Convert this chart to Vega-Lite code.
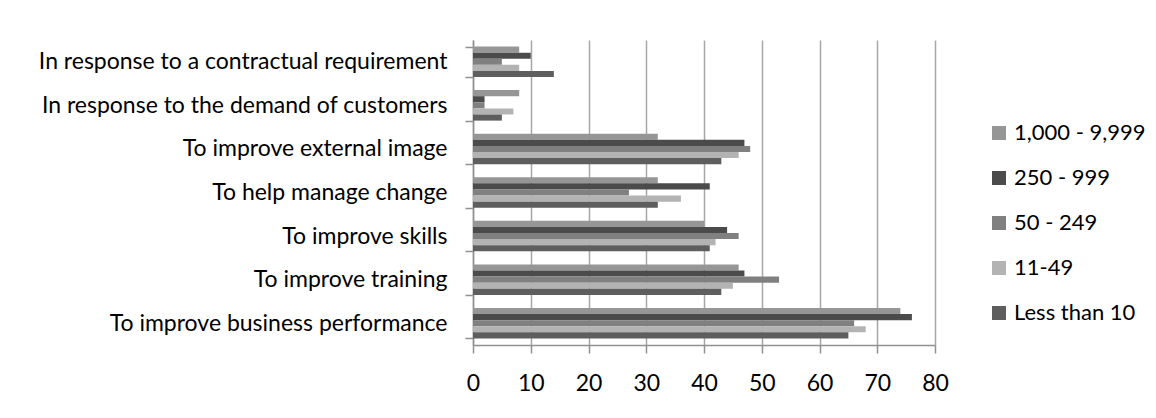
{
  "$schema": "https://vega.github.io/schema/vega-lite/v6.json",
  "autosize": "none",
  "width": 462,
  "height": 305,
  "padding": {"left": 473, "top": 40, "right": 221, "bottom": 73},
  "background": "white",
  "config": {
    "view": {"stroke": null},
    "font": "Lato",
    "axis": {"labelFont": "Lato", "labelColor": "#000000", "domainColor": "#909090", "tickColor": "#909090", "gridColor": "#a6a6a6", "domainWidth": 1.5, "tickWidth": 1.5, "gridWidth": 1.5}
  },
  "data": {
    "values": [
      {"reason": "In response to a contractual requirement", "size": "1,000 - 9,999", "value": 8},
      {"reason": "In response to a contractual requirement", "size": "250 - 999", "value": 10},
      {"reason": "In response to a contractual requirement", "size": "50 - 249", "value": 5},
      {"reason": "In response to a contractual requirement", "size": "11-49", "value": 8},
      {"reason": "In response to a contractual requirement", "size": "Less than 10", "value": 14},
      {"reason": "In response to the demand of customers", "size": "1,000 - 9,999", "value": 8},
      {"reason": "In response to the demand of customers", "size": "250 - 999", "value": 2},
      {"reason": "In response to the demand of customers", "size": "50 - 249", "value": 2},
      {"reason": "In response to the demand of customers", "size": "11-49", "value": 7},
      {"reason": "In response to the demand of customers", "size": "Less than 10", "value": 5},
      {"reason": "To improve external image", "size": "1,000 - 9,999", "value": 32},
      {"reason": "To improve external image", "size": "250 - 999", "value": 47},
      {"reason": "To improve external image", "size": "50 - 249", "value": 48},
      {"reason": "To improve external image", "size": "11-49", "value": 46},
      {"reason": "To improve external image", "size": "Less than 10", "value": 43},
      {"reason": "To help manage change", "size": "1,000 - 9,999", "value": 32},
      {"reason": "To help manage change", "size": "250 - 999", "value": 41},
      {"reason": "To help manage change", "size": "50 - 249", "value": 27},
      {"reason": "To help manage change", "size": "11-49", "value": 36},
      {"reason": "To help manage change", "size": "Less than 10", "value": 32},
      {"reason": "To improve skills ", "size": "1,000 - 9,999", "value": 40},
      {"reason": "To improve skills ", "size": "250 - 999", "value": 44},
      {"reason": "To improve skills ", "size": "50 - 249", "value": 46},
      {"reason": "To improve skills ", "size": "11-49", "value": 42},
      {"reason": "To improve skills ", "size": "Less than 10", "value": 41},
      {"reason": "To improve training", "size": "1,000 - 9,999", "value": 46},
      {"reason": "To improve training", "size": "250 - 999", "value": 47},
      {"reason": "To improve training", "size": "50 - 249", "value": 53},
      {"reason": "To improve training", "size": "11-49", "value": 45},
      {"reason": "To improve training", "size": "Less than 10", "value": 43},
      {"reason": "To improve business performance", "size": "1,000 - 9,999", "value": 74},
      {"reason": "To improve business performance", "size": "250 - 999", "value": 76},
      {"reason": "To improve business performance", "size": "50 - 249", "value": 66},
      {"reason": "To improve business performance", "size": "11-49", "value": 68},
      {"reason": "To improve business performance", "size": "Less than 10", "value": 65}
    ]
  },
  "mark": {"type": "bar"},
  "encoding": {
    "y": {
      "field": "reason",
      "type": "nominal",
      "sort": null,
      "scale": {"paddingInner": 0.3, "paddingOuter": 0.15},
      "axis": {"title": null, "tickBand": "extent", "tickSize": 8, "labelFontSize": 23, "labelPadding": 18, "labelLimit": 470, "grid": false}
    },
    "yOffset": {
      "field": "size",
      "type": "nominal",
      "sort": ["1,000 - 9,999", "250 - 999", "50 - 249", "11-49", "Less than 10"],
      "scale": {"paddingInner": 0, "paddingOuter": 0}
    },
    "x": {
      "field": "value",
      "type": "quantitative",
      "scale": {"domain": [0, 80]},
      "axis": {"title": null, "values": [0, 10, 20, 30, 40, 50, 60, 70, 80], "tickSize": 8, "labelFontSize": 23, "labelPadding": 19, "grid": true, "labelFlush": false}
    },
    "color": {
      "field": "size",
      "type": "nominal",
      "sort": ["1,000 - 9,999", "250 - 999", "50 - 249", "11-49", "Less than 10"],
      "scale": {"domain": ["1,000 - 9,999", "250 - 999", "50 - 249", "11-49", "Less than 10"], "range": ["#969696", "#4b4b4b", "#808080", "#b3b3b3", "#5e5e5e"]},
      "legend": {"title": null, "orient": "none", "legendX": 515, "legendY": 82, "symbolType": "square", "symbolSize": 196, "symbolStrokeWidth": 0, "labelFontSize": 22, "labelFont": "Lato", "labelColor": "#000000", "rowPadding": 23, "labelOffset": 4}
    }
  }
}
